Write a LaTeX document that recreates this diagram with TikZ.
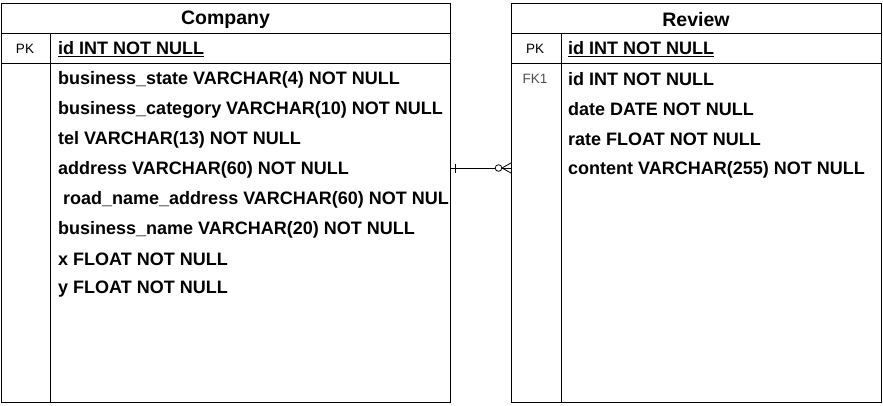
\documentclass[tikz,border=0pt]{standalone}
\usepackage{fontspec}
\setmainfont{Liberation Sans}
\begin{document}
\begin{tikzpicture}[x=1pt,y=-1pt,
  tbl/.style={draw, line width=1pt, minimum width=#1, minimum height=399pt, inner sep=0pt, anchor=north west},
  hdr/.style={font=\fontsize{19.5}{22}\selectfont\bfseries, anchor=center},
  fld/.style={font=\fontsize{18}{20}\selectfont\bfseries, anchor=west, inner sep=0pt},
  key/.style={font=\fontsize{13.5}{15}\selectfont, anchor=center, inner sep=0pt},
  rule/.style={line width=1pt}]
\useasboundingbox (0,0) rectangle (883,405);
% Company table
\node[tbl=449pt] (company) at (1,3) {};
\node[hdr] (ch) at (225.5,19.5) {Company};
\draw[rule] (1,33) -- (450,33);
\draw[rule] (1,63) -- (450,63);
\draw[rule] (50,33) -- (50,402);
\node[key] (cpk) at (25,49) {PK};
\node[fld] (c0) at (58,49.5) {\underline{id INT NOT NULL}};
\node[fld] (c1) at (58,79.5) {business\_state VARCHAR(4) NOT NULL};
\node[fld] (c2) at (58,109.5) {business\_category VARCHAR(10) NOT NULL};
\node[fld] (c3) at (58,139.5) {tel VARCHAR(13) NOT NULL};
\node[fld] (c4) at (58,169.5) {address VARCHAR(60) NOT NULL};
\node[fld] (c5) at (58,199.5) {\ road\_name\_address VARCHAR(60) NOT NUL};
\node[fld] (c6) at (58,229.5) {business\_name VARCHAR(20) NOT NULL};
\node[fld] (c7) at (58,259.5) {x FLOAT NOT NULL};
\node[fld] (c8) at (58,289.5) {y FLOAT NOT NULL};
% Review table
\node[tbl=370pt] (review) at (511,3) {};
\node[hdr] (rh) at (696,19.5) {Review};
\draw[rule] (511,33) -- (881,33);
\draw[rule] (511,63) -- (881,63);
\draw[rule] (561,33) -- (561,402);
\node[key] (rpk) at (535,49) {PK};
\node[key, text=black!70] (rfk) at (535,79) {FK1};
\node[fld] (r0) at (568,49.5) {\underline{id INT NOT NULL}};
\node[fld] (r1) at (568,79.5) {id INT NOT NULL};
\node[fld] (r2) at (568,109.5) {date DATE NOT NULL};
\node[fld] (r3) at (568,139.5) {rate FLOAT NOT NULL};
\node[fld] (r4) at (568,169.5) {content VARCHAR(255) NOT NULL};
% relation
\coordinate (ea) at (451,168);
\coordinate (eb) at (511,168);
\draw[line width=0.8pt] (ea) -- (495,168);
\draw[line width=0.8pt] (455,163.5) -- (455,172.5);
\draw[line width=0.8pt] (498.5,168) circle (3.3);
\draw[line width=0.8pt] (eb) -- (502,168);
\draw[line width=0.8pt] (511,163) -- (502,168) -- (511,173);
\end{tikzpicture}
\end{document}
